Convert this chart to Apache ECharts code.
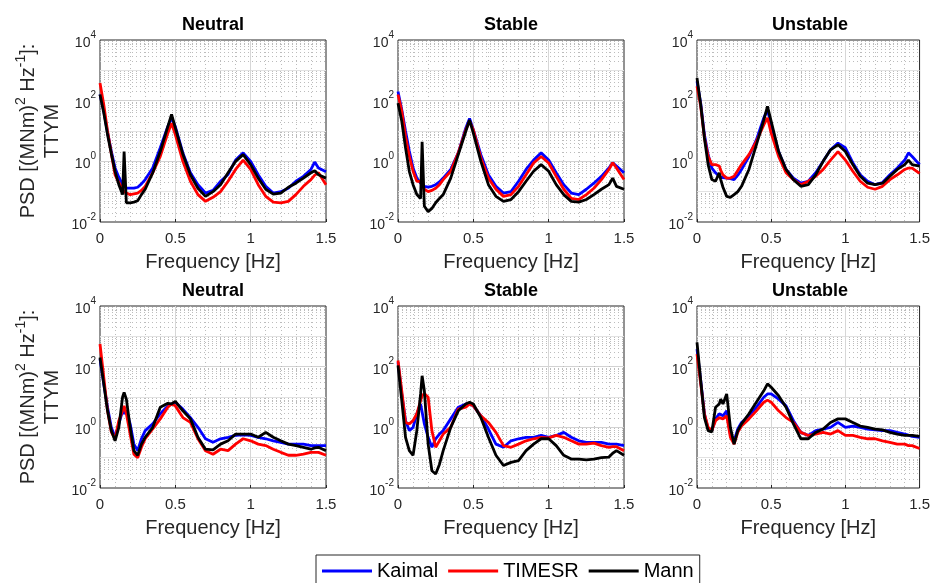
<!DOCTYPE html>
<html>
<head>
<meta charset="utf-8">
<script src="https://cdn.jsdelivr.net/npm/echarts@6.0.0/dist/echarts.min.js"></script>
<style>
  html, body { margin: 0; padding: 0; background: #fff; }
  #chart { width: 933px; height: 583px; }
</style>
</head>
<body>
<div id="chart"></div>
<script>
// shared frequency grid [Hz]
var freqHz = [0, 0.025, 0.05, 0.075, 0.1, 0.125, 0.15, 0.16, 0.175, 0.2, 0.225, 0.25, 0.275, 0.3,
    0.35, 0.4, 0.45, 0.475, 0.5, 0.55, 0.6, 0.65, 0.7, 0.75, 0.8, 0.85, 0.9, 0.95, 1.0, 1.05,
    1.1, 1.15, 1.2, 1.25, 1.3, 1.35, 1.4, 1.425, 1.45, 1.5];

var modelNames = ['Kaimal', 'TIMESR', 'Mann'];
var modelColors = ['#0000ff', '#ff0000', '#000000'];
var panelTitles = ['Neutral', 'Stable', 'Unstable', 'Neutral', 'Stable', 'Unstable'];

// row 1 - neutral
var kaimalN1 = [160, 45, 9, 2.2, 0.6, 0.3, 0.17, 0.15, 0.13, 0.13, 0.13, 0.14, 0.18, 0.25, 0.6, 2.8, 14, 27, 14, 1.9, 0.42, 0.17, 0.09, 0.11, 0.22, 0.37, 1.1, 1.9, 1.0, 0.36, 0.15, 0.09, 0.1, 0.13, 0.22, 0.32, 0.54, 0.95, 0.6, 0.45];
var timesrN1 = [380, 74, 10, 1.8, 0.36, 0.2, 0.12, 0.1, 0.09, 0.08, 0.085, 0.09, 0.11, 0.15, 0.42, 1.45, 8.5, 18, 7.6, 1.0, 0.22, 0.08, 0.048, 0.065, 0.1, 0.22, 0.54, 1.1, 0.54, 0.17, 0.07, 0.045, 0.043, 0.048, 0.08, 0.15, 0.25, 0.35, 0.42, 0.17];
var mannN1   = [160, 40, 7.6, 1.8, 0.47, 0.17, 0.08, 2.1, 0.043, 0.043, 0.045, 0.05, 0.08, 0.12, 0.42, 2.1, 14, 35, 12.6, 1.7, 0.36, 0.13, 0.07, 0.1, 0.17, 0.42, 1.0, 1.66, 0.78, 0.28, 0.12, 0.083, 0.09, 0.14, 0.19, 0.28, 0.42, 0.49, 0.36, 0.28];
// row 1 - stable
var kaimalS1 = [200, 50, 10, 2.2, 0.6, 0.28, 0.19, 0.17, 0.15, 0.14, 0.15, 0.17, 0.21, 0.28, 0.54, 1.9, 12.6, 26, 11, 1.66, 0.36, 0.15, 0.09, 0.1, 0.22, 0.54, 1.1, 1.9, 1.1, 0.42, 0.17, 0.09, 0.08, 0.12, 0.19, 0.32, 0.6, 0.9, 0.7, 0.42];
var timesrS1 = [160, 45, 6.6, 1.5, 0.47, 0.22, 0.22, 0.16, 0.12, 0.1, 0.11, 0.13, 0.17, 0.25, 0.47, 1.9, 11, 21, 11, 1.3, 0.28, 0.12, 0.07, 0.08, 0.15, 0.36, 0.88, 1.45, 0.88, 0.32, 0.12, 0.06, 0.055, 0.08, 0.13, 0.25, 0.54, 0.9, 0.6, 0.25];
var mannS1   = [83, 21, 2.8, 0.47, 0.17, 0.08, 0.06, 4.4, 0.033, 0.022, 0.028, 0.043, 0.06, 0.08, 0.28, 1.66, 9.8, 23, 8.5, 1.0, 0.17, 0.07, 0.048, 0.055, 0.1, 0.22, 0.47, 0.78, 0.47, 0.17, 0.08, 0.048, 0.045, 0.055, 0.08, 0.12, 0.17, 0.28, 0.15, 0.12];
// row 1 - unstable
var kaimalU1 = [440, 83, 7.6, 1.66, 0.6, 0.42, 0.32, 0.3, 0.29, 0.28, 0.27, 0.25, 0.35, 0.54, 1.45, 5.1, 27, 50, 16, 2.1, 0.54, 0.28, 0.19, 0.22, 0.42, 1.0, 2.4, 4.0, 2.8, 0.9, 0.36, 0.22, 0.17, 0.2, 0.36, 0.6, 1.1, 1.9, 1.45, 0.78];
var timesrU1 = [300, 65, 5.9, 1.45, 0.78, 0.78, 0.7, 0.5, 0.36, 0.28, 0.28, 0.32, 0.5, 0.78, 1.66, 4.5, 16, 27, 8.5, 1.45, 0.42, 0.25, 0.17, 0.22, 0.32, 0.54, 1.1, 2.1, 1.1, 0.47, 0.22, 0.14, 0.12, 0.15, 0.25, 0.36, 0.54, 0.6, 0.6, 0.4];
var mannU1   = [560, 74, 5.9, 0.78, 0.25, 0.22, 0.42, 0.25, 0.14, 0.07, 0.065, 0.08, 0.1, 0.15, 0.54, 3.5, 23, 65, 21, 2.1, 0.54, 0.25, 0.15, 0.17, 0.36, 1.0, 2.4, 3.5, 2.1, 0.78, 0.32, 0.19, 0.17, 0.19, 0.32, 0.54, 0.78, 1.1, 0.78, 0.7];
// row 2 - neutral
var kaimalN2 = [180, 27, 4.6, 1.0, 0.47, 1.3, 3.5, 2.8, 3.5, 1.3, 0.28, 0.17, 0.42, 0.78, 1.3, 2.8, 5.1, 5.9, 6.7, 4.0, 2.1, 1.0, 0.42, 0.32, 0.42, 0.47, 0.54, 0.57, 0.54, 0.47, 0.42, 0.36, 0.32, 0.28, 0.28, 0.28, 0.25, 0.25, 0.25, 0.25];
var timesrN2 = [560, 45, 3.5, 0.7, 0.42, 1.66, 3.5, 5.1, 2.8, 0.6, 0.13, 0.1, 0.22, 0.42, 0.88, 1.9, 4.6, 5.9, 5.1, 2.1, 1.45, 0.42, 0.17, 0.13, 0.19, 0.17, 0.28, 0.42, 0.36, 0.28, 0.25, 0.19, 0.15, 0.12, 0.12, 0.13, 0.15, 0.15, 0.15, 0.12];
var mannN2   = [200, 27, 3.5, 0.78, 0.36, 1.0, 10, 14, 8.5, 1.0, 0.17, 0.12, 0.28, 0.47, 1.0, 4.6, 6.2, 5.9, 7.2, 3.5, 1.9, 0.47, 0.19, 0.18, 0.28, 0.36, 0.6, 0.6, 0.6, 0.47, 0.68, 0.47, 0.36, 0.28, 0.25, 0.22, 0.19, 0.21, 0.22, 0.17];
// row 2 - stable
var kaimalS2 = [140, 12.6, 1.66, 0.78, 1.0, 2.8, 5.9, 5.9, 1.3, 0.47, 0.22, 0.42, 0.6, 0.78, 1.9, 4.6, 5.9, 5.9, 5.1, 2.4, 0.88, 0.28, 0.22, 0.36, 0.42, 0.47, 0.47, 0.54, 0.47, 0.54, 0.68, 0.47, 0.36, 0.32, 0.32, 0.32, 0.28, 0.28, 0.28, 0.25];
var timesrS2 = [160, 16, 1.45, 1.3, 1.66, 2.8, 7.6, 11, 13, 9.8, 0.78, 0.22, 0.36, 0.6, 1.0, 4.0, 4.6, 5.9, 5.1, 2.4, 1.45, 0.68, 0.25, 0.22, 0.28, 0.36, 0.42, 0.47, 0.45, 0.54, 0.47, 0.36, 0.28, 0.28, 0.3, 0.25, 0.22, 0.23, 0.23, 0.17];
var mannS2   = [110, 7.6, 0.47, 0.17, 0.12, 0.78, 12.6, 50, 16, 0.28, 0.037, 0.029, 0.06, 0.17, 1.0, 3.5, 5.9, 6.7, 5.9, 2.1, 0.47, 0.12, 0.055, 0.07, 0.08, 0.17, 0.28, 0.42, 0.42, 0.25, 0.12, 0.09, 0.09, 0.085, 0.09, 0.1, 0.105, 0.14, 0.17, 0.12];
// row 2 - unstable
var kaimalU2 = [380, 35, 2.8, 0.88, 0.78, 1.9, 2.8, 2.6, 2.4, 3.5, 0.6, 0.36, 0.88, 1.45, 2.4, 4.6, 9.8, 12.6, 12.6, 8.5, 5.1, 1.66, 0.68, 0.54, 0.78, 0.88, 1.0, 1.45, 1.0, 1.1, 1.0, 0.88, 0.82, 0.78, 0.78, 0.68, 0.6, 0.55, 0.5, 0.47];
var timesrU2 = [260, 27, 2.8, 1.0, 0.78, 1.66, 2.1, 2.0, 1.9, 2.4, 0.47, 0.28, 0.68, 1.1, 1.9, 3.5, 6.7, 7.9, 6.7, 3.5, 2.1, 1.45, 0.68, 0.54, 0.6, 0.68, 0.6, 0.78, 0.54, 0.54, 0.47, 0.42, 0.42, 0.36, 0.32, 0.28, 0.28, 0.25, 0.25, 0.2];
var mannU2   = [630, 35, 2.1, 0.78, 0.7, 4.6, 5.9, 8.5, 5.9, 12.6, 1.0, 0.28, 0.78, 1.3, 2.8, 6.7, 16, 27, 21, 11, 4.6, 1.3, 0.42, 0.42, 0.68, 0.88, 1.45, 1.9, 1.9, 1.45, 1.1, 1.0, 0.88, 0.82, 0.68, 0.6, 0.54, 0.54, 0.54, 0.5];

var panels = [
    [kaimalN1, timesrN1, mannN1],
    [kaimalS1, timesrS1, mannS1],
    [kaimalU1, timesrU1, mannU1],
    [kaimalN2, timesrN2, mannN2],
    [kaimalS2, timesrS2, mannS2],
    [kaimalU2, timesrU2, mannU2]
];

var gridLeft = [100, 398, 697];
var gridTop = [40, 306];
var gridW = 226, gridH = 182;
var textColor = '#262626';

var supRich = {
    b: { fontSize: 14, color: textColor, lineHeight: 20, verticalAlign: 'bottom' },
    s: { fontSize: 10, color: textColor, lineHeight: 11, verticalAlign: 'top' }
};
var nameRich = {
    n: { fontSize: 20, color: textColor, lineHeight: 24, verticalAlign: 'bottom' },
    s: { fontSize: 14, color: textColor, lineHeight: 14, verticalAlign: 'top' }
};

function decadeLabel(v) {
    var e = Math.round(Math.log(v) / Math.LN10);
    if (e % 2 !== 0) return '';
    return '{b|10}{s|' + e + '}';
}

var grids = [], xAxes = [], yAxes = [], titles = [], series = [];

for (var p = 0; p < 6; p++) {
    var col = p % 3, row = Math.floor(p / 3);
    grids.push({
        left: gridLeft[col], top: gridTop[row], width: gridW, height: gridH,
        show: true, borderColor: textColor, borderWidth: 1, backgroundColor: '#fff'
    });
    titles.push({
        text: panelTitles[p],
        left: gridLeft[col] + gridW / 2,
        top: gridTop[row] - 24,
        textAlign: 'center',
        padding: 0,
        textStyle: { fontSize: 18, fontWeight: 'bold', color: '#000', fontFamily: 'Liberation Sans' }
    });
    xAxes.push({
        gridIndex: p, type: 'value', min: 0, max: 1.5, interval: 0.5,
        axisLine: { show: false },
        axisTick: { show: true, inside: true, length: 3, lineStyle: { color: textColor } },
        axisLabel: { fontSize: 15, color: textColor, margin: 9 },
        name: 'Frequency [Hz]', nameLocation: 'middle', nameGap: 30,
        nameTextStyle: { fontSize: 20, color: textColor },
        splitLine: { show: true, showMinLine: false, showMaxLine: false, lineStyle: { color: '#d7d7d7' } },
        minorTick: { show: false, splitNumber: 5 },
        minorSplitLine: { show: true, lineStyle: { color: '#bcbcbc', type: [1, 3] } }
    });
    var yAxis = {
        gridIndex: p, type: 'log', logBase: 10, min: 0.01, max: 10000, splitNumber: 6,
        axisLine: { show: false },
        axisTick: { show: false },
        axisLabel: { formatter: decadeLabel, rich: supRich, margin: 4 },
        splitLine: { show: true, showMinLine: false, showMaxLine: false,
            lineStyle: { color: ['#e2e2e2', '#d2d2d2'] } },
        minorTick: { show: false, splitNumber: 9 },
        minorSplitLine: { show: true, lineStyle: { color: '#bcbcbc', type: [1, 3] } }
    };
    if (col === 0) {
        yAxis.name = '{n|PSD [(MNm)}{s|2}{n| Hz}{s|-1}{n|]:}\n{n|TTYM}';
        yAxis.nameLocation = 'middle';
        yAxis.nameGap = 38;
        yAxis.nameRotate = 90;
        yAxis.nameTextStyle = { rich: nameRich, align: 'center' };
    }
    yAxes.push(yAxis);

    for (var m = 0; m < 3; m++) {
        var vals = panels[p][m];
        series.push({
            name: modelNames[m],
            type: 'line',
            xAxisIndex: p, yAxisIndex: p,
            data: freqHz.map(function (f, i) { return [f, vals[i]]; }),
            symbol: 'none',
            showSymbol: false,
            z: 2 + m,
            lineStyle: { color: modelColors[m], width: 2.8 },
            itemStyle: { color: modelColors[m] }
        });
    }
}

var chart = echarts.init(document.getElementById('chart'), null, { renderer: 'canvas' });
chart.setOption({
    animation: false,
    backgroundColor: '#fff',
    textStyle: { fontFamily: 'Liberation Sans' },
    title: titles,
    grid: grids,
    xAxis: xAxes,
    yAxis: yAxes,
    legend: {
        data: modelNames.map(function (n) { return { name: n, icon: 'rect' }; }),
        left: 316, top: 555,
        orient: 'horizontal',
        itemWidth: 50, itemHeight: 3, itemGap: 10,
        padding: [6, 6, 6, 6],
        borderColor: textColor, borderWidth: 1,
        backgroundColor: '#fff',
        textStyle: { fontSize: 20, color: '#000' }
    },
    series: series
});
</script>
</body>
</html>
